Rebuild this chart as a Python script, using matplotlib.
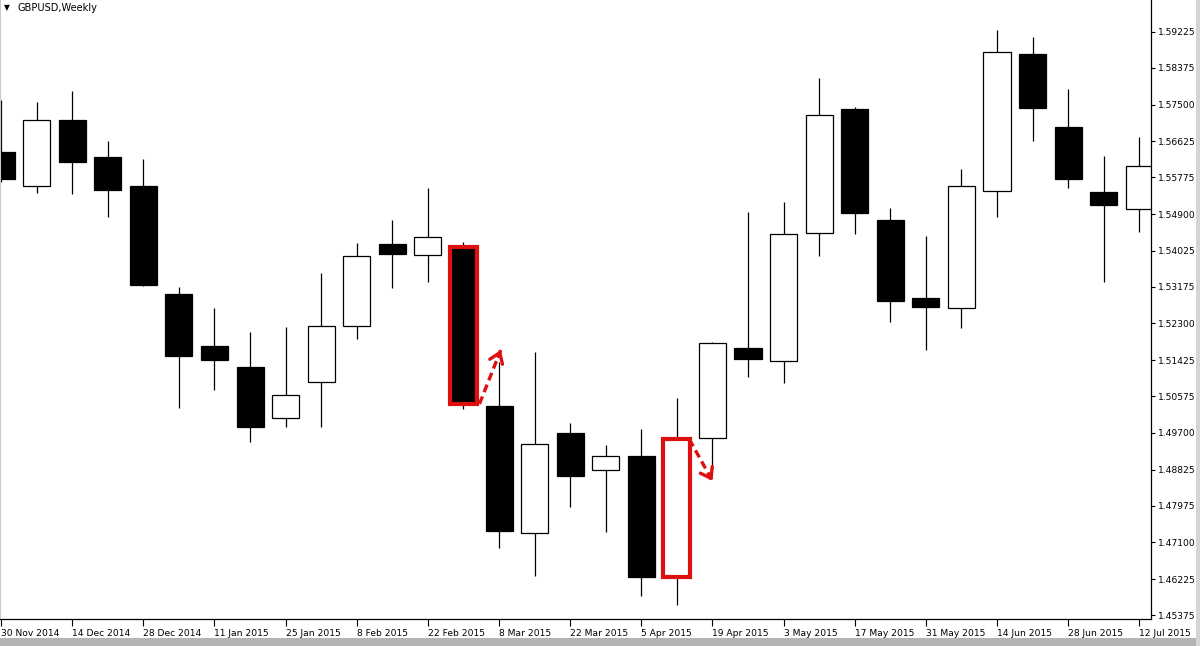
import matplotlib
matplotlib.use("Agg")
import matplotlib.pyplot as plt
from matplotlib.patches import Rectangle

# GBPUSD weekly candles, 30 Nov 2014 .. 12 Jul 2015
opens = [1.56374, 1.55566, 1.57134, 1.56255, 1.55566, 1.53001, 1.51765, 1.51267,
         1.50055, 1.50910, 1.52241, 1.54189, 1.53927, 1.54117, 1.50340, 1.47323,
         1.49699, 1.48820, 1.49152, 1.46278, 1.49580, 1.51718, 1.51409, 1.54450,
         1.57396, 1.54759, 1.52906, 1.52668, 1.55448, 1.58702, 1.56968, 1.55424,
         1.55020]
highs = [1.57609, 1.57562, 1.57823, 1.56635, 1.56208, 1.53167, 1.52668, 1.52098,
         1.52217, 1.53500, 1.54212, 1.54759, 1.55519, 1.54236, 1.51385, 1.51623,
         1.49936, 1.49414, 1.49794, 1.50530, 1.51860, 1.54949, 1.55186, 1.58132,
         1.57443, 1.55044, 1.54379, 1.55970, 1.59272, 1.59106, 1.57871, 1.56279,
         1.56730]
lows = [1.55661, 1.55400, 1.55376, 1.54830, 1.53200, 1.50293, 1.50720, 1.49485,
        1.49841, 1.49841, 1.51932, 1.53143, 1.53286, 1.50269, 1.46967, 1.46302,
        1.47941, 1.47347, 1.45826, 1.45613, 1.48867, 1.51029, 1.50887, 1.53904,
        1.54426, 1.52336, 1.51670, 1.52193, 1.54830, 1.56635, 1.55519, 1.53286,
        1.54474]
closes = [1.55733, 1.57134, 1.56137, 1.55471, 1.53215, 1.51528, 1.51433, 1.49841,
          1.50601, 1.52241, 1.53904, 1.53951, 1.54355, 1.50388, 1.47371, 1.49437,
          1.48677, 1.49152, 1.46278, 1.49556, 1.51837, 1.51457, 1.54426, 1.57253,
          1.54925, 1.52834, 1.52692, 1.55566, 1.58750, 1.57419, 1.55733, 1.55115,
          1.56042]

date_labels = ["30 Nov 2014", "14 Dec 2014", "28 Dec 2014", "11 Jan 2015",
               "25 Jan 2015", "8 Feb 2015", "22 Feb 2015", "8 Mar 2015",
               "22 Mar 2015", "5 Apr 2015", "19 Apr 2015", "3 May 2015",
               "17 May 2015", "31 May 2015", "14 Jun 2015", "28 Jun 2015",
               "12 Jul 2015"]
price_ticks = [1.59225, 1.58375, 1.57500, 1.56625, 1.55775, 1.54900, 1.54025,
               1.53175, 1.52300, 1.51425, 1.50575, 1.49700, 1.48825, 1.47975,
               1.47100, 1.46225, 1.45375]

# candles boxed in red, and the dashed arrows next to them
highlighted = [13, 19]
arrows = [((13.45, 1.5039), (14.05, 1.5167)),
          ((19.35, 1.4955), (20.00, 1.4856))]

RED = "#dd0f0f"
W = 0.76

fig = plt.figure(figsize=(12, 6.46), dpi=100)
ax = fig.add_axes([0, 27 / 646, 1151 / 1200, 1 - 27 / 646])

for i, (o, h, l, c) in enumerate(zip(opens, highs, lows, closes)):
    ax.vlines(i, l, h, color="black", lw=0.9, zorder=1)
    face = "black" if c < o else "white"
    ax.add_patch(Rectangle((i - W / 2, min(o, c)), W, abs(c - o),
                           facecolor=face, edgecolor="black", lw=0.9, zorder=2))

for i in highlighted:
    o, c = opens[i], closes[i]
    ax.add_patch(Rectangle((i - W / 2, min(o, c)), W, abs(c - o),
                           fill=False, edgecolor=RED, lw=3.0, zorder=4))

for (x0, y0), (x1, y1) in arrows:
    ax.plot([x0, x1], [y0, y1], color=RED, lw=2.4, dashes=(2.4, 1.4),
            solid_capstyle="butt", zorder=5)
    # short solid piece at the tip just to get a clean arrow head
    tx, ty = x1 - 0.12 * (x1 - x0), y1 - 0.12 * (y1 - y0)
    ax.annotate("", xy=(x1, y1), xytext=(tx, ty),
                arrowprops=dict(arrowstyle="->,head_length=0.5,head_width=0.35",
                                color=RED, lw=2.4, shrinkA=0, shrinkB=0,
                                mutation_scale=14), zorder=5)

ax.set_xlim(-0.03, 32.33)
ax.set_ylim(1.45280, 1.59985)

ax.set_xticks(range(0, len(opens), 2))
ax.set_xticklabels(date_labels, ha="left")
ax.set_yticks(price_ticks)
ax.set_yticklabels([f"{p:.5f}" for p in price_ticks])

ax.yaxis.tick_right()
ax.tick_params(axis="y", direction="out", length=3, width=0.8, pad=2,
               labelsize=6.6, colors="black")
ax.tick_params(axis="x", direction="out", length=5, width=0.8, pad=2,
               labelsize=6.6, colors="black")

ax.spines["top"].set_visible(False)
ax.spines["left"].set_color("#c8c8c8")
ax.spines["right"].set_linewidth(0.9)
ax.spines["bottom"].set_linewidth(0.9)

# title in the corner
fig.text(4 / 1200, 1 - 8 / 646, "\u25bc", fontsize=5.5, va="center", ha="left")
fig.text(17 / 1200, 1 - 8 / 646, "GBPUSD,Weekly", fontsize=7.1, va="center", ha="left")

# window frame at the bottom / right edge
fig.patches.append(Rectangle((0, 0), 1, 8 / 646, transform=fig.transFigure,
                             facecolor="#b4b4b4", edgecolor="none", zorder=0))
fig.patches.append(Rectangle((1196 / 1200, 0), 4 / 1200, 1, transform=fig.transFigure,
                             facecolor="#d4d4d4", edgecolor="none", zorder=0))

fig.savefig("out.png", dpi=100)
plt.close(fig)
